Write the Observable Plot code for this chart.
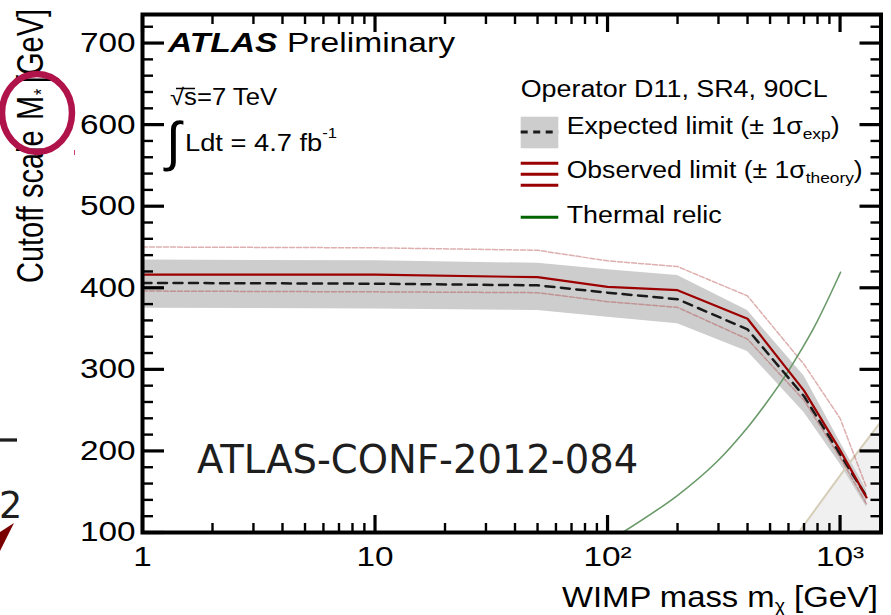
<!DOCTYPE html>
<html><head><meta charset="utf-8">
<script src="https://cdn.jsdelivr.net/npm/d3@7"></script>
<script src="https://cdn.jsdelivr.net/npm/@observablehq/plot@0.6"></script>
<style>
html,body{margin:0;padding:0;background:#fff;}
#chart{width:891px;height:615px;overflow:hidden;position:relative;}
svg{display:block;}
</style></head><body><div id="chart"></div>
<script>
// ---- data ----
const massGeV = [1, 10, 50, 100, 200, 400, 700, 1000, 1300];
const expectedLimit = [406, 405, 403, 394, 386, 349, 267, 196, 144];
const expectedMinus1Sigma = [375, 374, 372, 364, 356, 322, 247, 184, 131];
const expectedPlus1Sigma = [434, 433, 430, 422, 415, 372, 292, 211, 152];
const observedLimit = [416, 416, 413, 401, 397, 362, 274, 201, 143];
const observedTheoryMinus = [396, 395, 394, 383, 376, 337, 262, 192, 135];
const observedTheoryPlus = [450, 449, 446, 433, 426, 390, 306, 240, 155];

const relicMass = [116, 199, 296, 401, 494, 593, 772, 1005];
const relicCutoff = [100, 145, 187, 229, 263, 296, 351, 419];

const validityMass = [663, 1050, 1500];
const validityCutoff = [100, 178, 236];

const yMajorTicks = [100, 200, 300, 400, 500, 600, 700];
const yMinorTicks = [120,140,160,180,220,240,260,280,320,340,360,380,420,440,460,480,520,540,560,580,620,640,660,680,720];
const xMajorTicks = [1, 10, 100, 1000];
const xTickLabels = ["1", "10", "10\u00B2", "10\u00B3"];
const xMinorTicks = [2,3,4,5,6,7,8,9,20,30,40,50,60,70,80,90,200,300,400,500,600,700,800,900];

const xDomain = [1, 1500];
const yDomain = [100, 735];

const SANS = "'Liberation Sans', Arial, Helvetica, sans-serif";
const STRETCH = 1.19;
const W = 891, H = 615, ML = 142, MR = 10.5, MT = 14, MB = 83;
const majorLen = 22, minorLen = 11, majorLenX = 17, minorLenX = 9;

const limits = massGeV.map((m, i) => ({
  m, exp: expectedLimit[i], lo: expectedMinus1Sigma[i], hi: expectedPlus1Sigma[i],
  obs: observedLimit[i], thLo: observedTheoryMinus[i], thHi: observedTheoryPlus[i], floor: yDomain[0]
}));
const relic = relicMass.map((m, i) => ({m, v: relicCutoff[i]}));
const validity = validityMass.map((m, i) => ({m, v: validityCutoff[i], floor: yDomain[0]}));

// inward ticks: ordinary axis ticks shifted inward by their own length
const tickAxes = [
  Plot.axisY(yMajorTicks, {anchor: "left", tickSize: majorLen, dx: majorLen, strokeWidth: 3.2, fill: "none", label: null}),
  Plot.axisY(yMinorTicks, {anchor: "left", tickSize: minorLen, dx: minorLen, strokeWidth: 2.4, fill: "none", label: null}),
  Plot.axisY(yMajorTicks, {anchor: "right", tickSize: majorLen, dx: -majorLen, strokeWidth: 3.2, fill: "none", label: null}),
  Plot.axisY(yMinorTicks, {anchor: "right", tickSize: minorLen, dx: -minorLen, strokeWidth: 2.4, fill: "none", label: null}),
  Plot.axisX(xMajorTicks, {anchor: "bottom", tickSize: majorLenX, dy: -majorLenX, strokeWidth: 3.2, fill: "none", label: null}),
  Plot.axisX(xMinorTicks, {anchor: "bottom", tickSize: minorLenX, dy: -minorLenX, strokeWidth: 2.4, fill: "none", label: null}),
  Plot.axisX(xMajorTicks, {anchor: "top", tickSize: majorLenX, dy: majorLenX, strokeWidth: 3.2, fill: "none", label: null}),
  Plot.axisX(xMinorTicks, {anchor: "top", tickSize: minorLenX, dy: minorLenX, strokeWidth: 2.4, fill: "none", label: null})
];

const plot = Plot.plot({
  width: W, height: H,
  marginLeft: ML, marginRight: MR, marginTop: MT, marginBottom: MB,
  style: {fontFamily: SANS, background: "white", color: "black", overflow: "visible"},
  x: {type: "log", domain: xDomain},
  y: {domain: yDomain},
  marks: [
    Plot.areaY(validity, {x: "m", y1: "floor", y2: "v", fill: "#f0f0f0"}),
    Plot.areaY(limits, {x: "m", y1: "lo", y2: "hi", fill: "#cdcdcd"}),
    Plot.line(validity, {x: "m", y: "v", stroke: "#d6ceb8", strokeWidth: 2}),
    Plot.line(limits, {x: "m", y: "thHi", stroke: "#b04040", strokeOpacity: 0.42, strokeWidth: 1.5, strokeDasharray: "5,2"}),
    Plot.line(limits, {x: "m", y: "thLo", stroke: "#b04040", strokeOpacity: 0.42, strokeWidth: 1.5, strokeDasharray: "5,2"}),
    Plot.line(relic, {x: "m", y: "v", stroke: "#6a9a6a", strokeWidth: 1.6, curve: "catmull-rom"}),
    Plot.line(limits, {x: "m", y: "exp", stroke: "#1a1a1a", strokeWidth: 2.5, strokeDasharray: "9,6.5"}),
    Plot.line(limits, {x: "m", y: "obs", stroke: "#9c0000", strokeWidth: 2.2}),
    ...tickAxes,
    // tick labels
    Plot.axisY(yMajorTicks, {anchor: "left", tickSize: 0, tickPadding: 7, fontSize: 28, label: null}),
    Plot.axisX(xMajorTicks, {anchor: "bottom", tickSize: 0, tickPadding: 14, fontSize: 28, label: null,
      tickFormat: d => xTickLabels[xMajorTicks.indexOf(d)]}),
    Plot.frame({stroke: "black", strokeWidth: 4})
  ]
});

document.getElementById("chart").appendChild(plot);
const svg = d3.select(plot);

function txt(parent, x, y, size, parts, opts = {}) {
  const t = parent.append("text").attr("x", x).attr("y", y).attr("font-size", size)
    .attr("font-family", opts.family || SANS).attr("fill", opts.fill || "#000")
    .attr("text-anchor", opts.anchor || "start");
  if (opts.transform) t.attr("transform", opts.transform);
  parts.forEach(p => {
    if (typeof p === "string") { t.append("tspan").text(p); return; }
    const s = t.append("tspan").text(p.t);
    if (p.size) s.attr("font-size", p.size);
    if (p.dy) s.attr("dy", p.dy);
    if (p.weight) s.attr("font-weight", p.weight);
    if (p.style) s.attr("font-style", p.style);
  });
  if (opts.length) t.attr("textLength", opts.length).attr("lengthAdjust", "spacingAndGlyphs");
  if (opts.nostretch) t.attr("data-nostretch", "1");
  return t;
}

const ann = svg.append("g");
// ATLAS label
txt(ann, 168, 51.7, 28, [{t: "ATLAS", weight: "bold", style: "italic"}, " Preliminary"], {length: 287});
txt(ann, 170, 105, 23, ["\u221As=7 TeV"], {length: 107});
ann.append("line").attr("x1", 176).attr("x2", 195).attr("y1", 88.5).attr("y2", 88.5).attr("stroke", "#000").attr("stroke-width", 1.5);
txt(ann, 166, 160, 54, ["\u222B"], {nostretch: true});
txt(ann, 185, 150.7, 23, ["Ldt = 4.7 fb", {t: "-1", size: 14, dy: -13}], {length: 152});

// legend
txt(ann, 520.7, 96.7, 23, ["Operator D11, SR4, 90CL"], {length: 307});
ann.append("rect").attr("x", 520.7).attr("y", 116.7).attr("width", 37.6).attr("height", 31.6).attr("fill", "#cdcdcd");
ann.append("line").attr("x1", 520.7).attr("x2", 558.3).attr("y1", 132).attr("y2", 132)
  .attr("stroke", "#1a1a1a").attr("stroke-width", 3).attr("stroke-dasharray", "7,5.5");
txt(ann, 566.7, 134, 23, ["Expected limit (\u00B1 1\u03C3", {t: "exp", size: 15, dy: 5}, {t: ")", dy: -5}], {length: 273});
[163.3, 174.3, 185.3].forEach(y => ann.append("line").attr("x1", 520.7).attr("x2", 558.3).attr("y1", y).attr("y2", y)
  .attr("stroke", "#990000").attr("stroke-width", 3));
txt(ann, 566.7, 178.3, 23, ["Observed limit (\u00B1 1\u03C3", {t: "theory", size: 15, dy: 5}, {t: ")", dy: -5}], {length: 296});
ann.append("line").attr("x1", 520.7).attr("x2", 558.3).attr("y1", 217.3).attr("y2", 217.3)
  .attr("stroke", "#006400").attr("stroke-width", 3);
txt(ann, 566.7, 223.3, 23, ["Thermal relic"], {length: 155});

// axis titles (the y title is glyph-stretched across the text, like the reference)
txt(ann, 562, 607, 30, ["WIMP mass m", {t: "\u03C7", size: 18, dy: 5}, {t: " [GeV]", dy: -5}], {length: 316});
txt(ann, 0, 0, 29, ["Cutoff scale"], {transform: "translate(43,283) rotate(-90) scale(1,1.3)", nostretch: true});
txt(ann, 0, 0, 29, ["M"], {transform: "translate(43,120) rotate(-90) scale(1,1.3)", nostretch: true});
txt(ann, 0, 0, 16, ["*"], {transform: "translate(48,95) rotate(-90) scale(1,1.3)", nostretch: true});
txt(ann, 0, 0, 29, ["[GeV]"], {transform: "translate(43,83) rotate(-90) scale(1,1.3)", nostretch: true});

// slide overlays
txt(ann, 197, 473, 38.5, ["ATLAS-CONF-2012-084"], {family: "'DejaVu Sans', sans-serif", fill: "#1e1e1e", nostretch: true});
txt(ann, -1, 518, 36.6, ["2"], {family: "'DejaVu Sans', sans-serif", fill: "#1e1e1e", nostretch: true});
ann.append("line").attr("x1", 0).attr("x2", 17).attr("y1", 440).attr("y2", 440).attr("stroke", "#1e1e1e").attr("stroke-width", 3.3);
ann.append("polygon").attr("points", "14,523 0,532 0,551").attr("fill", "#7a0000");
ann.append("ellipse").attr("cx", 37).attr("cy", 113).attr("rx", 35).attr("ry", 39)
  .attr("fill", "none").attr("stroke", "#b0124a").attr("stroke-width", 6.5);
ann.append("line").attr("x1", 74.5).attr("x2", 74.5).attr("y1", 150).attr("y2", 155).attr("stroke", "#d04070").attr("stroke-width", 1);

// horizontal stretch of the reference's type
svg.selectAll("text").each(function() {
  if (this.hasAttribute("data-nostretch") || this.hasAttribute("textLength")) return;
  const L = this.getComputedTextLength();
  if (L > 0) {
    this.setAttribute("textLength", (L * STRETCH).toFixed(1));
    this.setAttribute("lengthAdjust", "spacingAndGlyphs");
  }
});
</script></body></html>
